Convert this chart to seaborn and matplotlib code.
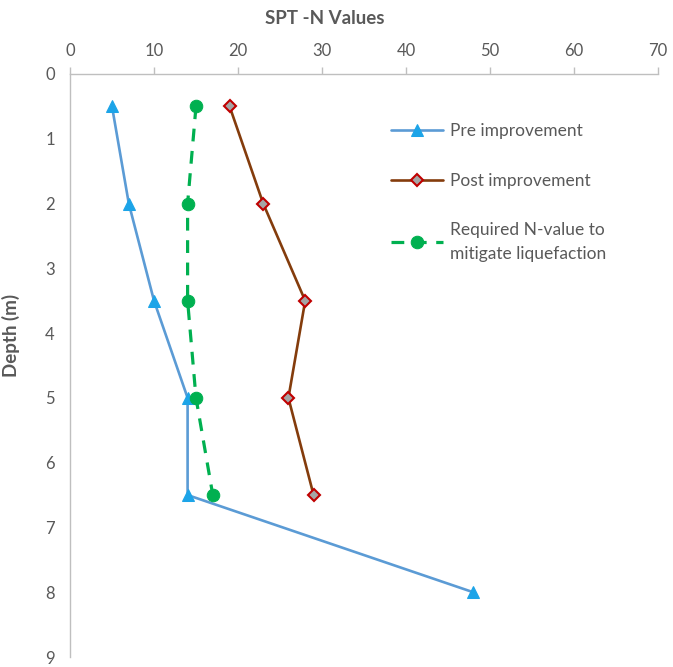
import matplotlib
matplotlib.use("Agg")
import matplotlib.pyplot as plt
import seaborn as sns
import pandas as pd

depth = [0.5, 2.0, 3.5, 5.0, 6.5, 8.0]
pre_n = [5, 7, 10, 14, 14, 48]
post_depth = [0.5, 2.0, 3.5, 5.0, 6.5]
post_n = [19, 23, 28, 26, 29]
req_depth = [0.5, 2.0, 3.5, 5.0, 6.5]
req_n = [15, 14, 14, 15, 17]
x_ticks = [0, 10, 20, 30, 40, 50, 60, 70]
y_ticks = [0, 1, 2, 3, 4, 5, 6, 7, 8, 9]

sns.set_theme(style="white")
plt.rcParams['font.family'] = ['Lato', 'DejaVu Sans']

fig = plt.figure(figsize=(6.73, 6.67), dpi=100)
ax = fig.add_axes([70/673, 1-657/667, (658-70)/673, (657-74)/667])

df_pre = pd.DataFrame({"N": pre_n, "Depth": depth})
df_post = pd.DataFrame({"N": post_n, "Depth": post_depth})
df_req = pd.DataFrame({"N": req_n, "Depth": req_depth})

sns.lineplot(data=df_pre, x="N", y="Depth", orient="y", sort=False, estimator=None,
             ax=ax, color="#5B9BD5", lw=1.9, marker="^", markersize=8,
             markerfacecolor="#1CA4E8", markeredgecolor="#1CA4E8",
             label="Pre improvement")
sns.lineplot(data=df_post, x="N", y="Depth", orient="y", sort=False, estimator=None,
             ax=ax, color="#843C0C", lw=1.9, marker="D", markersize=6,
             markerfacecolor="#A5A5A5", markeredgecolor="#C00000", markeredgewidth=1.5,
             label="Post improvement")
sns.lineplot(data=df_req, x="N", y="Depth", orient="y", sort=False, estimator=None,
             ax=ax, color="#00B050", lw=2.3, marker="o", markersize=9,
             markerfacecolor="#00B050", markeredgecolor="#00B050",
             label="Required N-value to\nmitigate liquefaction")
ax.lines[2].set_dashes([4, 3])

ax.set_xlim(0, 70)
ax.set_ylim(9, 0)
ax.set_xticks(x_ticks)
ax.set_yticks(y_ticks)
ax.xaxis.tick_top()
ax.xaxis.set_label_position("top")
ax.set_xlabel("SPT -N Values", fontsize=13.5, fontweight="bold", color="#595959")
ax.set_ylabel("Depth (m)", fontsize=13.5, fontweight="bold", color="#595959")
ax.xaxis.set_label_coords(0.434, 1.085)
ax.yaxis.set_label_coords(-0.085, 0.552)
for s in ["right", "bottom"]:
    ax.spines[s].set_visible(False)
for s in ["top", "left"]:
    ax.spines[s].set_color("#BFBFBF")
    ax.spines[s].set_linewidth(1)
ax.tick_params(axis="both", which="major", direction="out", length=5, width=1,
               color="#BFBFBF", labelcolor="#595959", labelsize=12, pad=6)
ax.grid(False)

leg = ax.legend(loc="upper left", bbox_to_anchor=(0.520, 0.942), frameon=False,
                fontsize=12.5, handlelength=3.0, labelspacing=1.93, handletextpad=0.4)
for t in leg.get_texts():
    t.set_color("#595959")
    t.set_linespacing(1.55)

fig.savefig("out.png", dpi=100)
